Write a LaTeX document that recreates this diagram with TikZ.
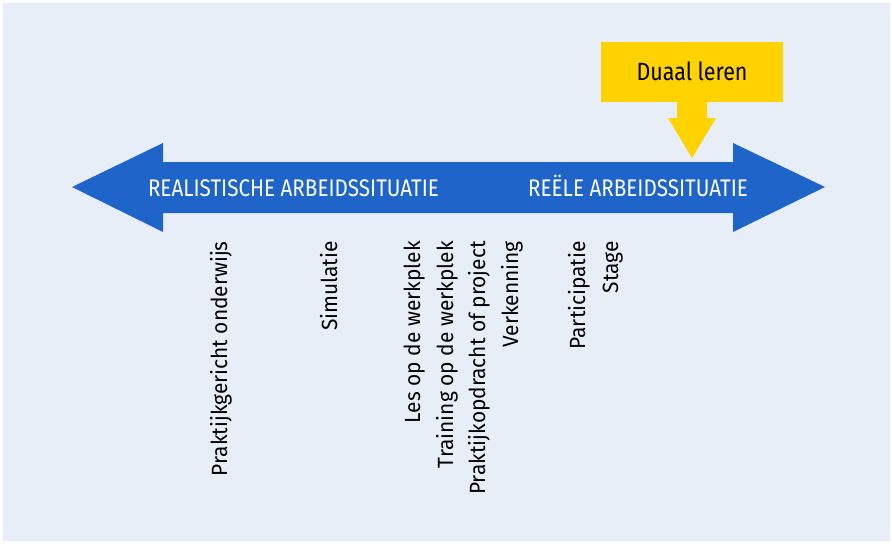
\documentclass[tikz,border=0pt]{standalone}
\usepackage{fontspec}
\setmainfont{Fira Sans}
\newfontfamily\capsfont{Fira Sans}[FakeStretch=0.86]
\newfontfamily\rotfont{Fira Sans}[FakeStretch=0.95]
\definecolor{bgblue}{HTML}{E8EEF8}
\definecolor{arrowblue}{HTML}{1F64C8}
\definecolor{dualyellow}{HTML}{FFD200}
\begin{document}
\begin{tikzpicture}[x=0.75pt,y=-0.75pt,
  bigtext/.style={inner sep=0pt,text=white,font=\capsfont\fontsize{18}{20}\selectfont,anchor=base},
  rottext/.style={inner sep=0pt,text=black,font=\rotfont\fontsize{16.5}{18}\selectfont,anchor=base east,rotate=90},
  ]
\useasboundingbox (0,0) rectangle (892,543);
\fill[white] (0,0) rectangle (892,543);
\fill[bgblue] (3,3) rectangle (890,541);
% double arrow
\fill[arrowblue] (72,187) -- (163,143) -- (163,162) -- (733,162) -- (733,143) -- (825,187)
  -- (733,232) -- (733,213) -- (163,213) -- (163,232) -- cycle;
% yellow callout
\node[fill=dualyellow,minimum width=182*0.75pt,minimum height=60*0.75pt,inner sep=0pt,anchor=north west] (dual) at (601,42) {};
\node[inner sep=0pt,anchor=base,font=\capsfont\fontsize{18.7}{21}\selectfont] (duallabel) at (692,80) {Duaal leren};
\fill[dualyellow] (677,101) -- (707,101) -- (707,118) -- (716,118) -- (692,158) -- (668,118) -- (677,118) -- cycle;
% arrow labels
\node[bigtext] (real) at (293.5,196) {REALISTISCHE ARBEIDSSITUATIE};
\node[bigtext] (reeel) at (638,196) {REËLE ARBEIDSSITUATIE};
% rotated labels
\node[rottext] (t1) at (227,241) {Praktijkgericht onderwijs};
\node[rottext] (t2) at (337,241) {Simulatie};
\node[rottext] (t3) at (420,241) {Les op de werkplek};
\node[rottext] (t4) at (453,241) {Training op de werkplek};
\node[rottext] (t5) at (485,241) {Praktijkopdracht of project};
\node[rottext] (t6) at (518,241) {Verkenning};
\node[rottext] (t7) at (585,241) {Participatie};
\node[rottext] (t8) at (618,241) {Stage};
\end{tikzpicture}
\end{document}
